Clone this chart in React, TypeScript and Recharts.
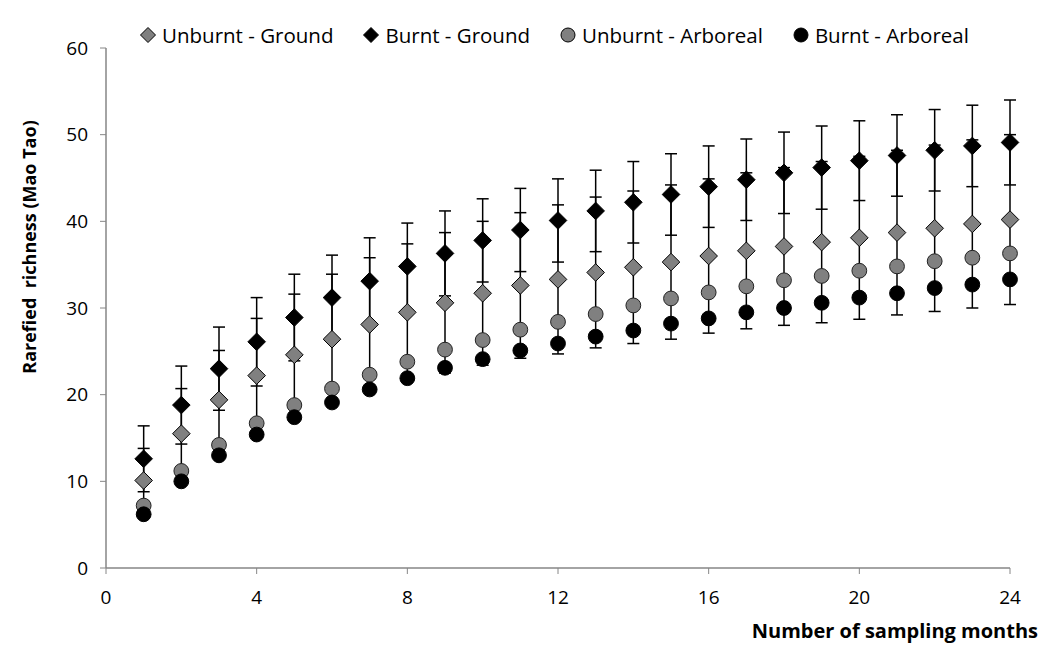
import React from "react";
import { ScatterChart, Scatter, XAxis, YAxis, ErrorBar, Legend } from "recharts";

const months = [1, 2, 3, 4, 5, 6, 7, 8, 9, 10, 11, 12, 13, 14, 15, 16, 17, 18, 19, 20, 21, 22, 23, 24];

const unburntGround = [10.1, 15.5, 19.4, 22.2, 24.6, 26.4, 28.1, 29.5, 30.6, 31.7, 32.6, 33.3, 34.1, 34.7, 35.3, 36.0, 36.6, 37.1, 37.6, 38.1, 38.7, 39.2, 39.7, 40.2];
const unburntGroundErr = [3.7, 5.2, 5.7, 6.6, 7.0, 7.5, 7.7, 7.9, 8.1, 8.3, 8.4, 8.6, 8.7, 8.8, 8.9, 8.9, 9.0, 9.1, 9.3, 9.4, 9.5, 9.6, 9.7, 9.8];
const burntGround = [12.6, 18.8, 23.0, 26.1, 28.9, 31.2, 33.1, 34.8, 36.3, 37.8, 39.0, 40.1, 41.2, 42.2, 43.1, 44.0, 44.8, 45.6, 46.2, 47.0, 47.6, 48.2, 48.7, 49.1];
const burntGroundErr = [3.8, 4.5, 4.8, 5.1, 5.0, 4.9, 5.0, 5.0, 4.9, 4.8, 4.8, 4.8, 4.7, 4.7, 4.7, 4.7, 4.7, 4.7, 4.8, 4.6, 4.7, 4.7, 4.7, 4.9];
const unburntArboreal = [7.2, 11.2, 14.2, 16.7, 18.8, 20.7, 22.3, 23.8, 25.2, 26.3, 27.5, 28.4, 29.3, 30.3, 31.1, 31.8, 32.5, 33.2, 33.7, 34.3, 34.8, 35.4, 35.8, 36.3];
const burntArboreal = [6.2, 10.0, 13.0, 15.4, 17.4, 19.1, 20.6, 21.9, 23.1, 24.1, 25.1, 25.9, 26.7, 27.4, 28.2, 28.8, 29.5, 30.0, 30.6, 31.2, 31.7, 32.3, 32.7, 33.3];

const xTicks = [0, 4, 8, 12, 16, 20, 24];
const yTicks = [0, 10, 20, 30, 40, 50, 60];

const seriesNames = ["Unburnt - Ground", "Burnt - Ground", "Unburnt - Arboreal", "Burnt - Arboreal"];

const FONT = "'Open Sans', sans-serif";
const GREY = "#808080";

const toPoints = (ys: number[], errs?: number[]) =>
  months.map((m, i) => ({ x: m, y: ys[i], err: errs ? errs[i] : 0 }));

const Diamond = (fill: string) => (props: any) => {
  const { cx, cy } = props;
  const r = 8.8;
  return (
    <path
      d={`M${cx},${cy - r} L${cx + r},${cy} L${cx},${cy + r} L${cx - r},${cy} Z`}
      fill={fill}
      stroke="#000"
      strokeWidth={1}
    />
  );
};

const Dot = (fill: string) => (props: any) => {
  const { cx, cy } = props;
  return <circle cx={cx} cy={cy} r={7.4} fill={fill} stroke={fill === GREY ? "#222" : "#000"} strokeWidth={1} />;
};

const legendItems = [
  { name: seriesNames[0], shape: "diamond", fill: GREY },
  { name: seriesNames[1], shape: "diamond", fill: "#000" },
  { name: seriesNames[2], shape: "circle", fill: GREY },
  { name: seriesNames[3], shape: "circle", fill: "#000" },
];

const renderLegend = () => (
  <div style={{ display: "flex", alignItems: "center", fontFamily: FONT, fontSize: 20.5, color: "#000", whiteSpace: "nowrap" }}>
    {legendItems.map((it, i) => (
      <div key={it.name} style={{ display: "flex", alignItems: "center", marginRight: i < 3 ? 30 : 0 }}>
        <svg width={16} height={16} style={{ marginRight: 6 }}>
          {it.shape === "diamond" ? (
            <path d="M8,0.5 L15.5,8 L8,15.5 L0.5,8 Z" fill={it.fill} stroke="#000" strokeWidth={1} />
          ) : (
            <circle cx={8} cy={8} r={7} fill={it.fill} stroke="#000" strokeWidth={1} />
          )}
        </svg>
        <span>{it.name}</span>
      </div>
    ))}
  </div>
);

export default function App() {
  return (
    <div style={{ position: "absolute", left: 0, top: 0, background: "#fff" }}>
      <ScatterChart width={1050} height={648} margin={{ top: 20, right: 40, left: 0, bottom: 0 }}>
        <XAxis
          type="number"
          dataKey="x"
          domain={[0, 24]}
          ticks={xTicks}
          height={80}
          tickSize={6}
          tickMargin={17}
          axisLine={{ stroke: "#868686", strokeWidth: 1.5 }}
          tickLine={{ stroke: "#868686" }}
          tick={{ fill: "#000", fontFamily: FONT, fontSize: 19 }}
          label={(p: any) => {
            const vb = p.viewBox;
            return (
              <text
                x={vb.x + vb.width + 28}
                y={vb.y + 70}
                textAnchor="end"
                fontFamily={FONT}
                fontSize={20}
                fontWeight="bold"
                fill="#000"
              >
                Number of sampling months
              </text>
            );
          }}
        />
        <YAxis
          type="number"
          dataKey="y"
          domain={[0, 60]}
          ticks={yTicks}
          width={106}
          tickSize={6}
          tickMargin={12}
          axisLine={{ stroke: "#868686", strokeWidth: 1.5 }}
          tickLine={{ stroke: "#868686" }}
          tick={{ fill: "#000", fontFamily: FONT, fontSize: 19 }}
          label={() => (
            <text
              x={29}
              y={247}
              transform="rotate(-90, 29, 247)"
              textAnchor="middle"
              dominantBaseline="central"
              fontFamily={FONT}
              fontSize={18}
              fontWeight="bold"
              fill="#000"
              style={{ whiteSpace: "pre" }}
            >
              Rarefied  richness (Mao Tao)
            </text>
          )}
        />
        <Legend
          verticalAlign="top"
          content={renderLegend}
          wrapperStyle={{ position: "absolute", top: 21, left: 140, width: "auto" }}
        />
        <Scatter name={seriesNames[1]} data={toPoints(burntGround, burntGroundErr)} shape={Diamond("#000")} isAnimationActive={false}>
          <ErrorBar dataKey="err" direction="y" width={6} stroke="#000" strokeWidth={1.5} />
        </Scatter>
        <Scatter name={seriesNames[0]} data={toPoints(unburntGround, unburntGroundErr)} shape={Diamond(GREY)} isAnimationActive={false}>
          <ErrorBar dataKey="err" direction="y" width={6} stroke="#000" strokeWidth={1.5} />
        </Scatter>
        <Scatter name={seriesNames[2]} data={toPoints(unburntArboreal)} shape={Dot(GREY)} isAnimationActive={false} />
        <Scatter name={seriesNames[3]} data={toPoints(burntArboreal)} shape={Dot("#000")} isAnimationActive={false} />
      </ScatterChart>
    </div>
  );
}
